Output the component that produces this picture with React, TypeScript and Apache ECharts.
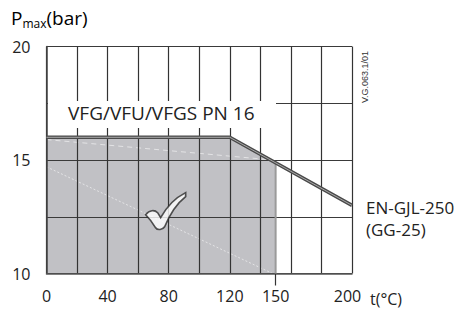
import React, { useEffect, useRef } from "react";
import * as echarts from "echarts";

const xLabelValues = [0, 40, 80, 120, 150, 200];
const yLabelValues = [10, 15, 20];
const ratingCurve = [[0, 16], [120, 16], [200, 13]];
const permittedArea = [[0, 16], [120, 16], [150, 14.875]];
const areaEdge = [[150, 10], [150, 14.875]];
const faintLineA = [[0, 15.9], [148, 15.0]];
const faintLineB = [[0, 14.7], [148, 10.0]];
const checkPoint = [[78, 12.75]];
const seriesLabel = "VFG/VFU/VFGS PN 16";
const materialLabel = ["EN-GJL-250", "(GG-25)"];

const FONT = "'Open Sans', 'Noto Sans', sans-serif";
const CHECK_PATH =
  "path://M0,22 C4,17 9,17 12,20 L15,25 C21,14 30,5 40,0 L40,4 C31,11 24,22 19,34 C17,37 12,38 10,35 C7,30 4,26 0,22 Z";

export default function App() {
  const ref = useRef<HTMLDivElement>(null);
  useEffect(() => {
    if (!ref.current) return;
    const chart = echarts.init(ref.current, null, { renderer: "svg" });
    chart.setOption({
      animation: false,
      backgroundColor: "#fff",
      grid: { left: 46.5, top: 46.5, width: 305.5, height: 227 },
      xAxis: [
        {
          type: "value",
          min: 0,
          max: 200,
          interval: 20,
          z: 3,
          axisLine: { show: true, lineStyle: { color: "#555", width: 1.5 } },
          axisTick: { show: false },
          axisLabel: { show: false },
          splitLine: { show: true, lineStyle: { color: "#333", width: 1.2 } },
        },
        {
          type: "value",
          min: 0,
          max: 200,
          position: "bottom",
          z: 3,
          axisLine: { show: false },
          axisTick: {
            show: true,
            customValues: [150],
            length: 12,
            lineStyle: { color: "#333", width: 1.2 },
          },
          axisLabel: {
            show: true,
            customValues: xLabelValues,
            margin: 14,
            fontSize: 16,
            fontFamily: FONT,
            color: "#222",
            formatter: (v: number) => (v === 200 ? "{r|200}" : String(v)),
            rich: { r: { fontSize: 16, fontFamily: FONT, color: "#222", padding: [0, 9, 0, 0] } },
          },
          splitLine: { show: false },
        },
      ],
      yAxis: {
        type: "value",
        min: 10,
        max: 20,
        interval: 2.5,
        z: 3,
        axisLine: { show: true, lineStyle: { color: "#444", width: 1.5 } },
        axisTick: { show: false },
        axisLabel: {
          margin: 16,
          fontSize: 16,
          fontFamily: FONT,
          color: "#222",
          formatter: (v: number) => (yLabelValues.includes(v) ? String(v) : ""),
        },
        splitLine: { show: true, lineStyle: { color: "#3a3a3a", width: 1.2 } },
      },
      series: [
        {
          type: "line",
          data: permittedArea,
          xAxisIndex: 0,
          showSymbol: false,
          z: 1,
          lineStyle: { width: 0 },
          areaStyle: { color: "#c1c1c5", origin: "start", opacity: 1 },
          silent: true,
        },
        {
          type: "line",
          data: faintLineA,
          xAxisIndex: 0,
          showSymbol: false,
          z: 1.5,
          lineStyle: { color: "rgba(255,255,255,0.55)", width: 1, type: [5, 4] },
        },
        {
          type: "line",
          data: faintLineB,
          xAxisIndex: 0,
          showSymbol: false,
          z: 1.5,
          lineStyle: { color: "rgba(255,255,255,0.55)", width: 1, type: [2, 2] },
        },
        {
          type: "line",
          data: areaEdge,
          xAxisIndex: 0,
          showSymbol: false,
          z: 4,
          lineStyle: { color: "#9a9a9a", width: 2 },
        },
        {
          type: "line",
          data: ratingCurve,
          xAxisIndex: 0,
          showSymbol: false,
          z: 5,
          lineStyle: { color: "#4a4a4a", width: 3.5 },
        },
        {
          type: "line",
          data: ratingCurve,
          xAxisIndex: 0,
          showSymbol: false,
          z: 6,
          lineStyle: { color: "#a8a8a8", width: 1 },
        },
        {
          type: "scatter",
          data: checkPoint,
          xAxisIndex: 0,
          symbol: CHECK_PATH,
          symbolSize: [40, 37],
          z: 7,
          itemStyle: { color: "#fff", borderColor: "#2a2a2a", borderWidth: 1.6 },
        },
      ],
      graphic: [
        {
          type: "rect",
          z: 100,
          shape: { x: 48, y: 101, width: 228, height: 27 },
          style: { fill: "#fff" },
        },
        {
          type: "text",
          z: 101,
          x: 68,
          y: 113,
          style: {
            text: seriesLabel,
            font: `19px ${FONT}`,
            fill: "#222",
            verticalAlign: "middle",
          },
        },
        {
          type: "text",
          z: 101,
          x: 11,
          y: 7,
          style: {
            text: "{a|P}{b|max}{a|(bar)}",
            rich: {
              a: { fontSize: 19, fontFamily: FONT, color: "#222" },
              b: { fontSize: 12, fontFamily: FONT, color: "#222", padding: [10, 0, 0, 0] },
            },
          },
        },
        {
          type: "text",
          z: 101,
          x: 370,
          y: 299,
          style: {
            text: "t(°C)",
            font: `16px ${FONT}`,
            fill: "#222",
            verticalAlign: "middle",
          },
        },
        {
          type: "text",
          z: 101,
          x: 365,
          y: 77,
          rotation: Math.PI / 2,
          style: {
            text: "V.G.063.1/01",
            font: "9px 'Liberation Sans', Arial, sans-serif",
            fill: "#333",
            align: "center",
            verticalAlign: "middle",
          },
        },
        {
          type: "text",
          z: 101,
          x: 366,
          y: 207,
          style: {
            text: materialLabel[0],
            font: `17px ${FONT}`,
            fill: "#222",
            verticalAlign: "middle",
          },
        },
        {
          type: "text",
          z: 101,
          x: 366,
          y: 229,
          style: {
            text: materialLabel[1],
            font: `17px ${FONT}`,
            fill: "#222",
            verticalAlign: "middle",
          },
        },
      ],
    });
    return () => chart.dispose();
  }, []);
  return <div ref={ref} style={{ width: 471, height: 309, position: "absolute", left: 0, top: 0 }} />;
}
